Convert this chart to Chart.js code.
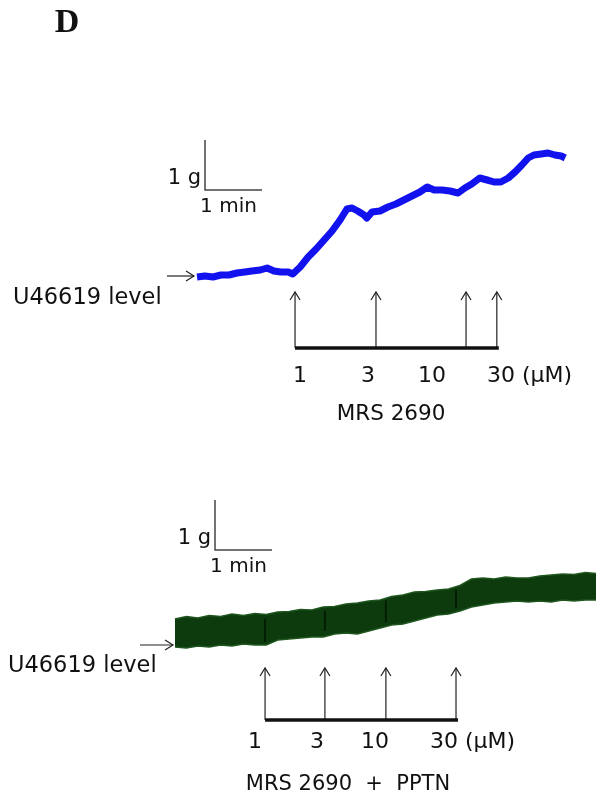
<!DOCTYPE html>
<html><head><meta charset="utf-8">
<script src="https://cdn.jsdelivr.net/npm/chart.js@4/dist/chart.umd.min.js"></script>
<style>
html,body{margin:0;padding:0;background:#fff;width:596px;height:803px;overflow:hidden}
canvas{position:absolute;left:0}
#c1{top:0}
#c2{top:440px}
</style></head><body>
<canvas id="c1" width="596" height="440"></canvas>
<canvas id="c2" width="596" height="363"></canvas>
<script>
// ---- Data (time in min, tension in g above U46619 level) ----
const topTime = [0.00,0.14,0.28,0.42,0.56,0.70,0.84,0.96,1.11,1.23,1.35,1.47,1.60,1.68,1.81,1.95,2.09,2.23,2.37,2.51,2.63,2.72,2.82,2.93,2.98,3.07,3.21,3.35,3.49,3.63,3.77,3.91,4.04,4.16,4.30,4.44,4.58,4.70,4.82,4.96,5.09,5.21,5.33,5.46,5.58,5.70,5.81,5.91,6.04,6.16,6.28,6.39,6.46];
const topTension = [0.00,0.02,0.00,0.04,0.04,0.08,0.10,0.12,0.14,0.18,0.12,0.10,0.10,0.06,0.20,0.40,0.56,0.74,0.92,1.14,1.36,1.38,1.32,1.24,1.18,1.30,1.32,1.40,1.46,1.54,1.62,1.70,1.80,1.74,1.74,1.72,1.68,1.78,1.86,1.98,1.94,1.90,1.90,1.98,2.10,2.24,2.38,2.44,2.46,2.48,2.44,2.42,2.38];
const topDoseTimes = [1.72, 3.14, 4.72, 5.26];

const bottomTime = [0.0,0.2,0.4,0.6,0.8,1.0,1.2,1.4,1.6,1.8,2.0,2.2,2.4,2.6,2.8,3.0,3.2,3.4,3.6,3.8,4.0,4.2,4.4,4.6,4.8,5.0,5.2,5.4,5.6,5.8,6.0,6.2,6.4,6.6,6.8,7.0,7.2,7.4];
const bottomUpper = [0.28,0.33,0.30,0.35,0.33,0.38,0.35,0.39,0.37,0.42,0.43,0.47,0.46,0.52,0.53,0.58,0.60,0.64,0.66,0.73,0.76,0.82,0.83,0.86,0.88,0.95,1.08,1.10,1.08,1.12,1.10,1.10,1.14,1.16,1.18,1.17,1.21,1.19];
const bottomLower = [-0.28,-0.30,-0.26,-0.28,-0.24,-0.26,-0.22,-0.24,-0.24,-0.14,-0.12,-0.10,-0.08,-0.08,-0.02,0.00,-0.02,0.04,0.10,0.16,0.18,0.24,0.30,0.36,0.38,0.44,0.52,0.56,0.60,0.62,0.64,0.62,0.64,0.62,0.66,0.64,0.66,0.66];
const bottomDoseTimes = [1.58, 2.63, 3.70, 4.93];

const doseLabels = ['1','3','10','30 (μM)'];
const baselineLabel = 'U46619 level';
const scaleLabels = ['1 g','1 min'];
const topTitle = 'MRS 2690';
const bottomTitle = 'MRS 2690  +  PPTN';
const panelLetter = 'D';

const FONT = '"DejaVu Sans", Verdana, sans-serif';

function arrowHead(ctx, x, y, dir) {
  ctx.beginPath();
  if (dir === 'up') { ctx.moveTo(x-5, y+8); ctx.lineTo(x, y); ctx.lineTo(x+5, y+8); }
  else { ctx.moveTo(x-8, y-5); ctx.lineTo(x, y); ctx.lineTo(x-8, y+5); }
  ctx.stroke();
}

function makePlugin(o) {
  return {
    id: 'annot',
    afterDatasetsDraw(chart) {
      const ctx = chart.ctx, xs = chart.scales.x, ys = chart.scales.y;
      ctx.save();
      if (o.marks) {
        ctx.strokeStyle = 'rgba(0,20,0,0.75)';
        ctx.lineWidth = 2;
        o.doses.forEach(t => {
          const i = bottomTime.findIndex(v => v >= t);
          const px = xs.getPixelForValue(t);
          ctx.beginPath();
          ctx.moveTo(px, ys.getPixelForValue(bottomUpper[i]) + 4);
          ctx.lineTo(px, ys.getPixelForValue(bottomLower[i]) - 3);
          ctx.stroke();
        });
      }
      ctx.restore();
    },
    afterDraw(chart) {
      const ctx = chart.ctx, xs = chart.scales.x, ys = chart.scales.y;
      ctx.save();
      ctx.fillStyle = '#111';
      ctx.textBaseline = 'middle';
      if (o.letter) {
        ctx.font = 'bold 34px "Liberation Serif", "DejaVu Serif", serif';
        ctx.textAlign = 'center';
        ctx.fillText(panelLetter, 67, 23);
      }
      // scale bar
      const gLen = ys.getPixelForValue(0) - ys.getPixelForValue(1);
      const mLen = xs.getPixelForValue(1) - xs.getPixelForValue(0);
      ctx.strokeStyle = '#444';
      ctx.lineWidth = 1.5;
      ctx.beginPath();
      ctx.moveTo(o.sb.x, o.sb.y);
      ctx.lineTo(o.sb.x, o.sb.y + gLen);
      ctx.lineTo(o.sb.x + mLen, o.sb.y + gLen);
      ctx.stroke();
      ctx.font = '21px ' + FONT;
      ctx.textAlign = 'right';
      ctx.fillText(scaleLabels[0], o.sb.x - 4, o.sb.y + gLen - 11);
      ctx.font = '20px ' + FONT;
      ctx.textAlign = 'center';
      ctx.fillText(scaleLabels[1], o.sb.x + mLen/2 - 5, o.sb.y + gLen + 17);
      // baseline arrow
      ctx.strokeStyle = '#222';
      ctx.lineWidth = 1.2;
      ctx.beginPath();
      ctx.moveTo(o.ba.x0, o.ba.y); ctx.lineTo(o.ba.x1, o.ba.y); ctx.stroke();
      arrowHead(ctx, o.ba.x1, o.ba.y, 'right');
      ctx.textAlign = 'left';
      ctx.font = '22.5px ' + FONT;
      ctx.fillText(baselineLabel, o.bl.x, o.bl.y);
      // dose arrows
      const px = o.doses.map(t => xs.getPixelForValue(t));
      px.forEach(p => {
        ctx.beginPath(); ctx.moveTo(p, o.arr.bar); ctx.lineTo(p, o.arr.top); ctx.stroke();
        arrowHead(ctx, p, o.arr.top, 'up');
      });
      ctx.lineWidth = 3.5;
      ctx.strokeStyle = '#111';
      ctx.beginPath();
      ctx.moveTo(px[0], o.arr.bar); ctx.lineTo(px[px.length-1] + 2, o.arr.bar); ctx.stroke();
      // dose labels
      ctx.font = o.labFont + 'px ' + FONT;
      doseLabels.forEach((s, i) => {
        ctx.textAlign = i === 3 ? 'left' : 'center';
        ctx.fillText(s, o.lab.x[i], o.lab.y);
      });
      ctx.font = o.ttFont + 'px ' + FONT;
      ctx.textAlign = 'center';
      ctx.fillText(o.title, o.tt.x, o.tt.y);
      ctx.restore();
    }
  };
}

const commonOpts = (xr, yr) => ({
  responsive: false, animation: false, devicePixelRatio: 1,
  layout: { padding: 0 },
  plugins: { legend: { display: false }, tooltip: { enabled: false } },
  elements: { point: { radius: 0 }, line: { tension: 0 } },
  scales: {
    x: { type: 'linear', min: xr[0], max: xr[1], display: false },
    y: { type: 'linear', min: yr[0], max: yr[1], display: false }
  }
});

new Chart(document.getElementById('c1'), {
  type: 'line',
  data: { datasets: [{
    data: topTime.map((t, i) => ({ x: t, y: topTension[i] })),
    borderColor: '#1212ee', borderWidth: 7, borderJoinStyle: 'round', fill: false
  }]},
  options: commonOpts([-197/57, (596-197)/57], [277/50 - 440/50, 277/50]),
  plugins: [makePlugin({
    letter: true,
    sb: { x: 205, y: 140 },
    ba: { x0: 167, x1: 194, y: 276 },
    bl: { x: 13, y: 298 },
    doses: topDoseTimes,
    arr: { top: 292, bar: 348 },
    labFont: 22,
    lab: { x: [300, 368, 432, 487], y: 376 },
    ttFont: 21.5,
    title: topTitle, tt: { x: 391, y: 414 }
  })]
});

new Chart(document.getElementById('c2'), {
  type: 'line',
  data: { datasets: [
    { data: bottomTime.map((t, i) => ({ x: t, y: bottomLower[i] })),
      borderColor: '#1f561f', borderWidth: 1.5, fill: false },
    { data: bottomTime.map((t, i) => ({ x: t, y: bottomUpper[i] })),
      borderColor: '#1f561f', borderWidth: 1.5, fill: '-1', backgroundColor: '#0d3b0d' }
  ]},
  options: commonOpts([-175/57, (596-175)/57], [193/50 - 363/50, 193/50]),
  plugins: [makePlugin({
    marks: true,
    sb: { x: 215, y: 60 },
    ba: { x0: 140, x1: 173, y: 205 },
    bl: { x: 8, y: 226 },
    doses: bottomDoseTimes,
    arr: { top: 228, bar: 280 },
    labFont: 22,
    lab: { x: [255, 317, 375, 430], y: 302 },
    ttFont: 21,
    title: bottomTitle, tt: { x: 348, y: 345 }
  })]
});
</script>
</body></html>
